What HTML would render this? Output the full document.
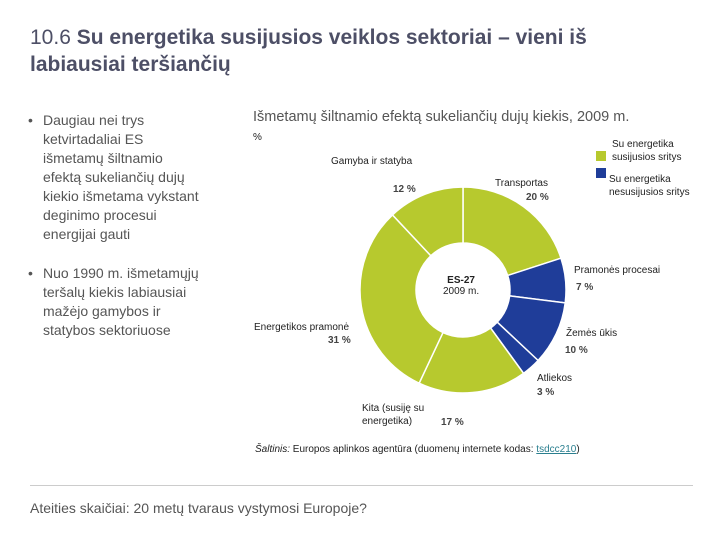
<!DOCTYPE html>
<html><head><meta charset="utf-8"><style>
body{margin:0;width:720px;height:540px;background:#fff;position:relative;overflow:hidden;font-family:"Liberation Sans",sans-serif}
.a{position:absolute;white-space:nowrap}
.t{color:#4d4f66;font-size:21px;line-height:27px;left:30px;top:24px}
.b{color:#555;font-size:14px;line-height:19px;left:28px;width:200px}
.b span{position:absolute;left:0}
.b div{margin-left:15px}
.s{font-size:10px;color:#222}
.p{font-size:10px;font-weight:bold;color:#444}
</style></head><body>
<div class="a t">10.6 <b>Su energetika susijusios veiklos sektoriai – vieni iš<br>labiausiai teršiančių</b></div>
<div class="a b" style="top:111px"><span>•</span><div>Daugiau nei trys<br>ketvirtadaliai ES<br>išmetamų šiltnamio<br>efektą sukeliančių dujų<br>kiekio išmetama vykstant<br>deginimo procesui<br>energijai gauti</div></div>
<div class="a b" style="top:264px"><span>•</span><div>Nuo 1990 m. išmetamųjų<br>teršalų kiekis labiausiai<br>mažėjo gamybos ir<br>statybos sektoriuose</div></div>
<div class="a" style="left:253px;top:109px;font-size:14.5px;color:#555">Išmetamų šiltnamio efektą sukeliančių dujų kiekis, 2009 m.</div>
<div class="a s" style="left:253px;top:132px">%</div>
<svg class="a" style="left:0;top:0" width="720" height="540" id="ch"></svg>
<div class="a s" style="left:612px;top:138px;line-height:13px">Su energetika<br>susijusios sritys</div>
<div class="a" style="left:596px;top:151px;width:10px;height:10px;background:#b7c92e"></div>
<div class="a s" style="left:609px;top:173px;line-height:13px">Su energetika<br>nesusijusios sritys</div>
<div class="a" style="left:596px;top:168px;width:10px;height:10px;background:#1f3d99"></div>
<div class="a" style="left:443px;top:275px;font-size:10px;text-align:center;color:#222"><b>ES-27</b><br>2009 m.</div>
<div class="a s" style="left:331px;top:156px">Gamyba ir statyba</div>
<div class="a p" style="left:393px;top:184px">12 %</div>
<div class="a s" style="left:495px;top:178px">Transportas</div>
<div class="a p" style="left:526px;top:192px">20 %</div>
<div class="a s" style="left:574px;top:265px">Pramonės procesai</div>
<div class="a p" style="left:576px;top:282px">7 %</div>
<div class="a s" style="left:566px;top:328px">Žemės ūkis</div>
<div class="a p" style="left:565px;top:345px">10 %</div>
<div class="a s" style="left:537px;top:373px">Atliekos</div>
<div class="a p" style="left:537px;top:387px">3 %</div>
<div class="a s" style="left:254px;top:322px">Energetikos pramonė</div>
<div class="a p" style="left:328px;top:335px">31 %</div>
<div class="a s" style="left:362px;top:402px;line-height:13px">Kita (susiję su<br>energetika)</div>
<div class="a p" style="left:441px;top:417px">17 %</div>
<div class="a s" style="left:255px;top:444px"><i>Šaltinis:</i> Europos aplinkos agentūra (duomenų internete kodas: <u style="color:#2a7f8f">tsdcc210</u>)</div>
<div class="a" style="left:30px;top:485px;width:663px;height:1px;background:#ccc"></div>
<div class="a" style="left:30px;top:500px;font-size:14px;color:#555">Ateities skaičiai: 20 metų tvaraus vystymosi Europoje?</div>
<script>
const categories=["Transportas","Pramonės procesai","Žemės ūkis","Atliekos","Kita","Energetikos pramonė","Gamyba ir statyba"];
const values=[20,7,10,3,17,31,12];
const groups=["related","unrelated","unrelated","unrelated","related","related","related"];
const svg=document.getElementById('ch');
const cx=463,cy=290,R=103,r=47;
const total=values.reduce((a,b)=>a+b,0);
function ang(v){return v/total*2*Math.PI-Math.PI/2;}
function pt(a,rad){return [cx+rad*Math.cos(a),cy+rad*Math.sin(a)];}
let acc=0;
values.forEach((v,i)=>{
 const a0=ang(acc),a1=ang(acc+v);acc+=v;
 const [x0,y0]=pt(a0,R),[x1,y1]=pt(a1,R),[x2,y2]=pt(a1,r),[x3,y3]=pt(a0,r);
 const lg=(a1-a0)>Math.PI?1:0;
 const p=document.createElementNS('http://www.w3.org/2000/svg','path');
 p.setAttribute('d',`M${x0},${y0}A${R},${R} 0 ${lg} 1 ${x1},${y1}L${x2},${y2}A${r},${r} 0 ${lg} 0 ${x3},${y3}Z`);
 p.setAttribute('fill',groups[i]==='related'?'#b7c92e':'#1f3d99');
 p.setAttribute('stroke','#fff');p.setAttribute('stroke-width','1.5');
 
 
 svg.appendChild(p);
});
</script>
</body></html>
